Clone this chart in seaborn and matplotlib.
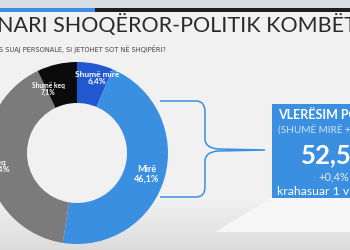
import matplotlib
matplotlib.use("Agg")
import matplotlib.pyplot as plt
import seaborn as sns
import numpy as np
from matplotlib.path import Path
from matplotlib.patches import PathPatch, Rectangle, Polygon

sns.set_theme(style="white")
plt.rcParams['font.family'] = ['Lato', 'DejaVu Sans']

# ---- data ----
categories = ["Shumë mirë", "Mirë", "Keq", "Shumë keq"]
values = [6.4, 46.1, 40.4, 7.1]
value_labels = ["6,4%", "46,1%", "40,4%", "7,1%"]
colors = ["#2158d0", "#3a8fe0", "#7b7b7b", "#0b0b0b"]
title = "NARI SHOQËROR-POLITIK KOMBËTAR"
subtitle = "S SUAJ PERSONALE, SI JETOHET SOT NË SHQIPËRI?"
box_lines = ["VLERËSIM POZITIV", "(SHUMË MIRË + MIRË)", "52,5%", "+0,4%", "krahasuar 1 vit më parë"]

W, H = 350, 250
fig = plt.figure(figsize=(3.5, 2.5), dpi=100)
fig.patch.set_facecolor("#f1f1f1")

# top bars in figure coordinates
tf = fig.transFigure
fig.add_artist(Rectangle((0, 1 - 8 / H), 1, 8 / H, transform=tf, color="#d9dde4", lw=0, zorder=5))
fig.add_artist(Rectangle((0, 1 - 12 / H), 95 / W, 4 / H, transform=tf, color="#3a8fe0", lw=0, zorder=5))
fig.add_artist(Rectangle((95 / W, 1 - 12 / H), 1 - 95 / W, 4 / H, transform=tf, color="#1e1e1e", lw=0, zorder=5))

ax = fig.add_axes([0, 0, 1, 1])
ax.set_facecolor("#f1f1f1")
ax.patch.set_alpha(0)

def Y(y):
    return H - y

# donut
cx, cy, R = 77, 153, 91
wedges, _ = ax.pie(values, colors=colors, startangle=90, counterclock=False,
                   center=(cx, Y(cy)), radius=R,
                   wedgeprops=dict(width=R - 50, linewidth=0))
for wd in wedges:
    wd.set_zorder(2)
ax.set_xlim(0, W)
ax.set_ylim(0, H)
ax.set_aspect('auto')
ax.axis('off')

# background shading at bottom
for i in range(30):
    y0 = 200 + i * 50 / 30
    t = i / 29
    c = 0.94 - 0.08 * t
    ax.add_patch(Rectangle((0, Y(y0 + 50 / 30 + 0.5)), W, 50 / 30 + 0.5,
                           color=(c, c, c), lw=0, zorder=0.2))
ax.add_patch(Polygon([(271, Y(198)), (350, Y(198)), (350, Y(232)), (215, Y(232))],
                     closed=True, color="#f6f6f6", lw=0, zorder=0.5))

# titles
ax.text(-3, Y(32), title, fontsize=15.5, color="#2a2a2a", va='baseline', ha='left',
        zorder=2)
ax.text(-1, Y(52), subtitle, fontsize=4.8, color="#444444", va='baseline', ha='left',
        family=['Liberation Sans Narrow', 'DejaVu Sans'], zorder=2)

label_pos = [(97, 78), (147, 174), (-1, 166), (48, 89)]
label_size = [6.0, 6.5, 6.0, 4.8]
for cat, vl, (lx, ly), fs in zip(categories, value_labels, label_pos, label_size):
    ax.text(lx, Y(ly), f"{cat}\n{vl}", fontsize=fs, color="white", ha='center', va='center',
            fontweight='bold', linespacing=1.1, zorder=3)

# brace
blue = "#3a8fe0"
verts = [(160, Y(101)), (196, Y(101)), (205, Y(101)), (205, Y(112)),
         (205, Y(139)), (205, Y(148)), (218, Y(149)), (265, Y(150)),
         (218, Y(151)), (205, Y(152)), (205, Y(161)),
         (205, Y(187)), (205, Y(197)), (196, Y(197)), (160, Y(197))]
codes = [Path.MOVETO, Path.LINETO, Path.CURVE3, Path.CURVE3,
         Path.LINETO, Path.CURVE3, Path.CURVE3, Path.LINETO,
         Path.LINETO, Path.CURVE3, Path.CURVE3,
         Path.LINETO, Path.CURVE3, Path.CURVE3, Path.LINETO]
ax.add_patch(PathPatch(Path(verts, codes), fill=False, edgecolor=blue, lw=1.1, zorder=1.5))

# box
ax.add_patch(Rectangle((272, Y(198)), 85, 94, color=blue, lw=0, zorder=2))
ax.text(278, Y(119), box_lines[0], fontsize=9.0, fontweight='bold', color='white',
        ha='left', va='baseline', zorder=3)
ax.text(278, Y(134), box_lines[1], fontsize=7.2, color='#d2e5f9',
        ha='left', va='baseline', zorder=3)
ax.text(301, Y(163), box_lines[2], fontsize=18.5, fontweight='bold', color='white',
        ha='left', va='baseline', zorder=3)
ax.text(318, Y(180), box_lines[3], fontsize=8.0, color='#e6f0fc',
        ha='left', va='baseline', zorder=3)
ax.text(277, Y(195), box_lines[4], fontsize=8.8, color='white',
        ha='left', va='baseline', zorder=3)

fig.savefig("out.png", dpi=100, facecolor=fig.get_facecolor())
